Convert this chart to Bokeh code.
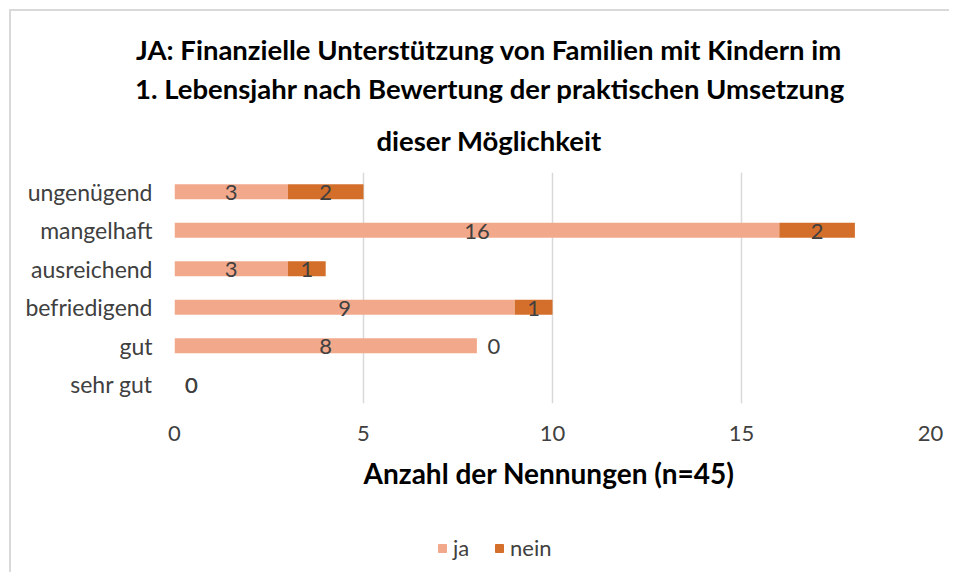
from bokeh.plotting import figure
from bokeh.layouts import column
from bokeh.models import (ColumnDataSource, FactorRange, Legend, LegendItem, Title)
from bokeh.embed import file_html
from bokeh.resources import INLINE
from bokeh.core.properties import value

# ---- data ----
categories = ["sehr gut", "gut", "befriedigend", "ausreichend", "mangelhaft", "ungenügend"]
ja = [0, 8, 9, 3, 16, 3]
nein = [0, 0, 1, 1, 2, 2]
series = ["ja", "nein"]
colors = ["#F2A98B", "#D46F2B"]
x_ticks = [0, 5, 10, 15, 20]
title_lines = [
    "JA: Finanzielle Unterstützung von Familien mit Kindern im",
    "1. Lebensjahr nach Bewertung der praktischen Umsetzung",
    "dieser Möglichkeit",
]
x_label = "Anzahl  der Nennungen (n=45)"

FONT = "Lato"
TXT = "#404040"

src = ColumnDataSource(dict(cat=categories, ja=ja, nein=nein))

p = figure(width=938, height=489,
           y_range=FactorRange(*categories), x_range=(0, 20),
           output_backend="svg", toolbar_location=None,
           min_border_left=163, min_border_right=19,
           min_border_top=161, min_border_bottom=97)

rs = p.hbar_stack(series, y="cat", height=0.39, color=colors, source=src, line_color=None)

# data labels
lx, ly, lt, lo = [], [], [], []
for c, a, b in zip(categories, ja, nein):
    start = 0
    for v in (a, b):
        if v == 0:
            lx.append(start); lo.append(17)
        else:
            lx.append(start + v / 2); lo.append(0)
        ly.append(c); lt.append(str(v))
        start += v
lab = ColumnDataSource(dict(x=lx, y=ly, t=lt, o=lo))
p.text(x="x", y="y", text="t", x_offset="o", y_offset=1, source=lab,
       text_align="center", text_baseline="middle",
       text_font=value(FONT), text_font_size="22px", text_color=TXT)

# axes
p.xaxis.ticker = x_ticks
for ax in (p.xaxis[0], p.yaxis[0]):
    ax.axis_line_color = None
    ax.major_tick_line_color = None
    ax.minor_tick_line_color = None
    ax.major_tick_out = 0
    ax.major_tick_in = 0
    ax.major_label_text_font = FONT
    ax.major_label_text_color = TXT
p.xaxis.major_label_text_font_size = "22px"
p.yaxis.major_label_text_font_size = "23px"
p.xaxis.major_label_standoff = 22
p.yaxis.major_label_standoff = 22
p.xaxis.axis_label = x_label
p.xaxis.axis_label_text_font = FONT
p.xaxis.axis_label_text_font_size = "28px"
p.xaxis.axis_label_text_font_style = "bold"
p.xaxis.axis_label_text_color = "#000000"
p.xaxis.axis_label_standoff = 12

p.xgrid.grid_line_color = "#D9D9D9"
p.xgrid.grid_line_width = 1.5
p.ygrid.grid_line_color = None
p.outline_line_color = None

# title (three lines, the one nearest to the frame added first)
for t, off, so in zip(reversed(title_lines), [202, -39.5, -38.5], [31, 4, 4]):
    p.add_layout(Title(text=t, align="left", offset=off, standoff=so,
                       text_font=FONT, text_font_size="27.5px", text_font_style="bold",
                       text_color="#000000"), "above")

# legend strip below the chart
lf = figure(width=938, height=72, x_range=(0, 1), y_range=(0, 1),
            output_backend="svg", toolbar_location=None,
            x_axis_location=None, y_axis_location=None,
            min_border=0, outline_line_color=None)
lf.grid.visible = False
offscreen = ColumnDataSource(dict(x=[-10], y=[-10]))
lr = [lf.rect(x="x", y="y", width=1, height=1, source=offscreen, color=c) for c in colors]
legend = Legend(items=[LegendItem(label=s, renderers=[r]) for s, r in zip(series, lr)],
                orientation="horizontal", location=(263, 11),
                glyph_width=10, glyph_height=10, label_standoff=6, spacing=21,
                padding=0, margin=0, border_line_color=None, background_fill_alpha=0,
                label_text_font=FONT, label_text_font_size="22px", label_text_color=TXT)
lf.add_layout(legend)

page = column(p, lf, spacing=0, margin=(9, 0, 0, 9),
              styles={"border-top": "2px solid #D9D9D9", "border-left": "2px solid #D9D9D9",
                      "overflow": "hidden"})
open("out.html", "w").write(file_html(page, INLINE))
